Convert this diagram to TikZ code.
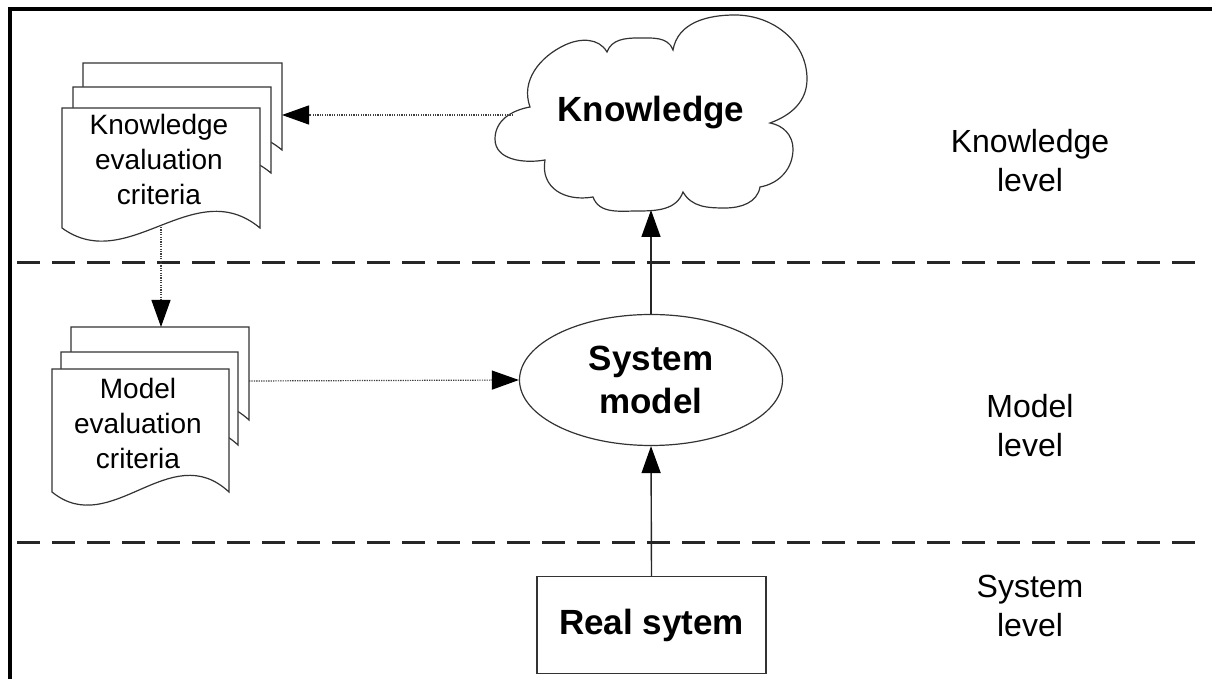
\documentclass[tikz,border=0pt]{standalone}
\usepackage{fontspec}
\setmainfont{Liberation Sans}
\usetikzlibrary{shapes.geometric,arrows.meta}
\tikzset{
  outline/.style={draw=black!80, line width=1.2pt, fill=white},
  docfont/.style={font=\fontsize{28}{35}\selectfont, align=center},
  levelfont/.style={font=\fontsize{32}{39}\selectfont, align=center},
  boldfont/.style={font=\bfseries\fontsize{35}{43}\selectfont, align=center},
  solidarrow/.style={draw=black!85, line width=1.4pt, -{Triangle[length=27pt,width=19pt,color=black]}},
  dotarrow/.style={draw=black!75, line width=1.2pt, dash pattern=on 1.3pt off 1.1pt, -{Triangle[length=27pt,width=19pt,color=black]}},
  levelline/.style={draw=black!85, line width=3pt, dash pattern=on 23pt off 12pt},
  frameline/.style={draw=black, line width=4pt}
}
\newcommand{\mydocpage}[4]{% x0, width, top, bottom
  \path[outline] (#1,#3) -- ({#1+#2},#3) -- ({#1+#2},#4)
    .. controls ({#1+2*#2/3},{#4+55}) and ({#1+#2/3},{#4-48}) .. (#1,#4) -- cycle;}
\begin{document}
\begin{tikzpicture}[x=1pt,y=1pt]
\useasboundingbox (0,0) rectangle (1212,679);
% frame
\draw[frameline] (9.5,0) -- (9.5,670) -- (1212,670);
% level separators
\draw[levelline] (17,416) -- (1205,416);
\draw[levelline] (17,136) -- (1205,136);
% cloud
\path[outline]
  (530,572) to[out=110,in=205] (565,634) to[out=25,in=120] (607,627)
  to[out=70,in=180] (638,641) to[out=0,in=110] (673,629)
  to[out=80,in=180] (735,664) to[out=0,in=90] (807,600) to[out=-90,in=20] (770,556)
  to[out=-10,in=90] (793,530) to[out=-90,in=10] (760,492)
  to[out=-100,in=0] (725,471) to[out=180,in=-60] (683,487)
  to[out=-110,in=0] (638,468) to[out=180,in=-70] (593,482)
  to[out=190,in=-100,looseness=1.2] (545,519)
  to[out=190,in=-90] (495,540) to[out=90,in=190] (530,572) -- cycle;
\node[boldfont] (kn) at (651,566) {Knowledge};
\coordinate (knwest) at (513,564);
\coordinate (knsouth) at (651,469);
% knowledge criteria stack
\mydocpage{83}{199}{616}{529}
\mydocpage{73}{198}{592}{506}
\mydocpage{62}{198}{571}{451}
\node[docfont] (kcrit) at (159,519) {Knowledge\\evaluation\\criteria};
\coordinate (kcriteast) at (282,564);
\coordinate (kcritsouth) at (161,452);
% model criteria stack
\mydocpage{71}{178}{352}{259}
\mydocpage{61}{177}{327}{234}
\mydocpage{52}{177}{310}{187}
\node[docfont] (mcrit) at (138,255.5) {Model\\evaluation\\criteria};
\coordinate (mcritnorth) at (161,352);
\coordinate (mcriteast) at (249,298);
% system model
\node[outline, ellipse, minimum width=263pt, minimum height=131pt, inner sep=0pt, boldfont] (sm) at (651,299) {System\\model};
% real system
\node[outline, rectangle, minimum width=229pt, minimum height=97pt, inner sep=0pt, boldfont] (rs) at (651.5,54) {Real sytem};
% connectors
\draw[dotarrow] (knwest) -- (kcriteast);
\draw[dotarrow] (kcritsouth) -- (mcritnorth);
\draw[dotarrow] (mcriteast) -- (sm.west);
\draw[solidarrow] (rs.north) -- (sm.south);
\draw[solidarrow] (sm.north) -- (knsouth);
% level labels
\node[levelfont] (lk) at (1030,518) {Knowledge\\level};
\node[levelfont] (lm) at (1030,253.5) {Model\\level};
\node[levelfont] (ls) at (1030,73) {System\\level};
\end{tikzpicture}
\end{document}
